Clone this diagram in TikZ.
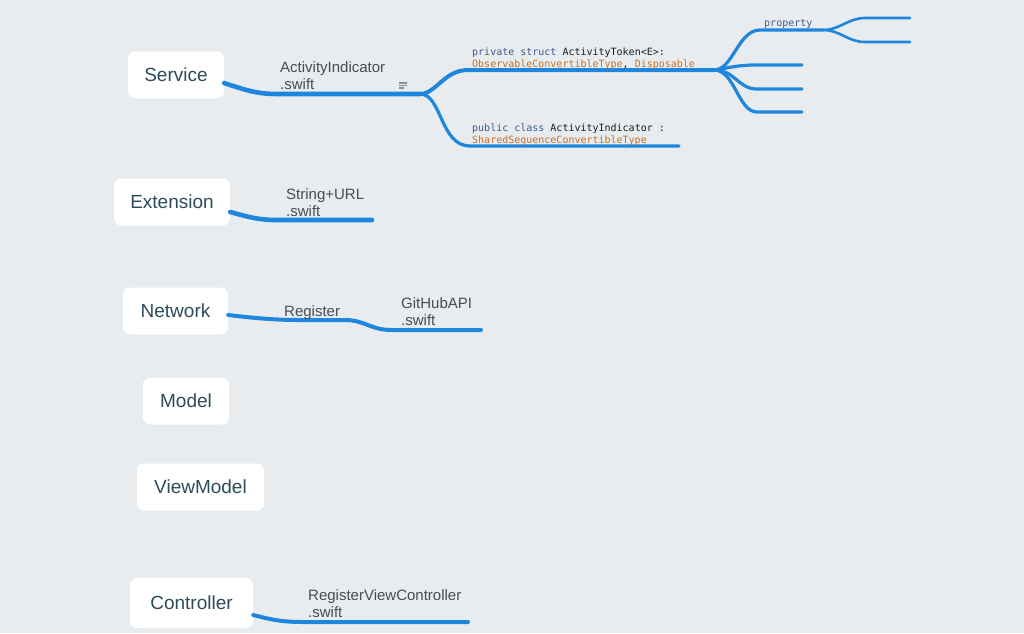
\documentclass[tikz,border=0pt]{standalone}
\usepackage{fontspec}
\setmainfont{Liberation Sans}
\newfontfamily\codefont{DejaVu Sans Mono}
\definecolor{bg}{HTML}{E8ECEF}
\definecolor{branch}{HTML}{1E86DC}
\definecolor{boxtext}{HTML}{2D4C5B}
\definecolor{labeltext}{HTML}{454E55}
\definecolor{kw}{HTML}{42598F}
\definecolor{typ}{HTML}{C8701F}
\definecolor{ident}{HTML}{1C1C1C}
\definecolor{note}{HTML}{8A9095}
\begin{document}
\begin{tikzpicture}[x=1pt,y=-1pt,
  box/.style={fill=white, rounded corners=7pt, minimum height=47pt, inner sep=0pt,
    text=boxtext, font=\fontsize{19}{22}\selectfont},
  file/.style={anchor=base west, align=left, inner sep=0pt, text=labeltext,
    font=\fontsize{15}{17}\selectfont},
  code/.style={anchor=base west, align=left, inner sep=0pt,
    font=\codefont\fontsize{10}{12}\selectfont},
  lvA/.style={draw=branch, line width=4.6pt, line cap=round},
  lvB/.style={draw=branch, line width=4pt, line cap=round},
  lvC/.style={draw=branch, line width=3.2pt, line cap=round},
  lvD/.style={draw=branch, line width=2.6pt, line cap=round},
]
\fill[bg] (0,0) rectangle (1024,633);
\useasboundingbox (0,0) rectangle (1024,633);

% category boxes
\node[box, minimum width=96pt]  (service)    at (176,75)  {Service};
\node[box, minimum width=116pt] (extension)  at (172,202) {Extension};
\node[box, minimum width=105pt] (network)    at (175.5,311) {Network};
\node[box, minimum width=86pt]  (model)      at (186,401) {Model};
\node[box, minimum width=127pt] (viewmodel)  at (200.5,487) {ViewModel};
\node[box, minimum width=123pt, minimum height=50pt] (controller) at (191.5,603) {Controller};

% junctions and branch ends
\coordinate (j1) at (420,94);
\coordinate (j2) at (714,70);
\coordinate (j3) at (823,30);
\coordinate (indend) at (679,146);
\coordinate (e1) at (802,65);
\coordinate (e2) at (802,89);
\coordinate (e3) at (802,112);
\coordinate (p1) at (910,18);
\coordinate (p2) at (910,42);
\coordinate (extend) at (372,220);
\coordinate (regj) at (345,320);
\coordinate (netend) at (481,330);
\coordinate (ctrlend) at (468,622);

% Service branch
\draw[lvA] ([yshift=-8pt]service.east) .. controls (248,91) and (258,94) .. (278,94) -- (j1);
\draw[lvB] (j1) .. controls (436,94) and (444,70) .. (468,70) -- (j2);
\draw[lvC] (j1) .. controls (442,94) and (440,146) .. (470,146) -- (indend);
\draw[lvC] (j2) .. controls (733,70) and (738,30) .. (760,30) -- (j3);
\draw[lvC] (j2) .. controls (728,68) and (738,65) .. (755,65) -- (e1);
\draw[lvC] (j2) .. controls (735,70) and (738,89) .. (757,89) -- (e2);
\draw[lvC] (j2) .. controls (735,70) and (738,112) .. (757,112) -- (e3);
\draw[lvD] (j3) .. controls (840,30) and (848,18) .. (865,18) -- (p1);
\draw[lvD] (j3) .. controls (840,30) and (848,42) .. (865,42) -- (p2);

% Extension branch
\draw[lvA] ([yshift=-10pt]extension.east) .. controls (252,218) and (260,220) .. (278,220) -- (extend);

% Network branch
\draw[lvB] ([yshift=-4pt]network.east) .. controls (262,319) and (280,320) .. (300,320) -- (regj)
  .. controls (365,320) and (370,330) .. (392,330) -- (netend);

% Controller branch
\draw[lvB] ([yshift=-12pt]controller.east) .. controls (276,621) and (286,622) .. (305,622) -- (ctrlend);

% labels (base anchor sits on the last line)
\node[file] (activityfile) at (280,89) {ActivityIndicator\\.swift};
\node[file] (stringfile) at (286,216) {String+URL\\.swift};
\node[file] (register) at (284,316) {Register};
\node[file] (githubfile) at (401,325) {GitHubAPI\\.swift};
\node[file] (controllerfile) at (308,617) {RegisterViewController\\.swift};

\node[code] (tokenclass) at (472,67)
  {\textcolor{kw}{private struct} \textcolor{ident}{ActivityToken<E>:}\\
   \textcolor{typ}{ObservableConvertibleType}\textcolor{ident}{,} \textcolor{typ}{Disposable}};
\node[code] (indicatorclass) at (472,143)
  {\textcolor{kw}{public class} \textcolor{ident}{ActivityIndicator :}\\
   \textcolor{typ}{SharedSequenceConvertibleType}};
\node[code, text=kw] (property) at (764,26) {property};

% note marker on the file
\coordinate (noteicon) at (399,83);
\draw[note, line width=1.1pt] (noteicon) -- ++(8,0);
\draw[note, line width=1.1pt] ([yshift=-2.5pt]noteicon) -- ++(8,0);
\draw[note, line width=1.1pt] ([yshift=-5pt]noteicon) -- ++(5,0);
\end{tikzpicture}
\end{document}
